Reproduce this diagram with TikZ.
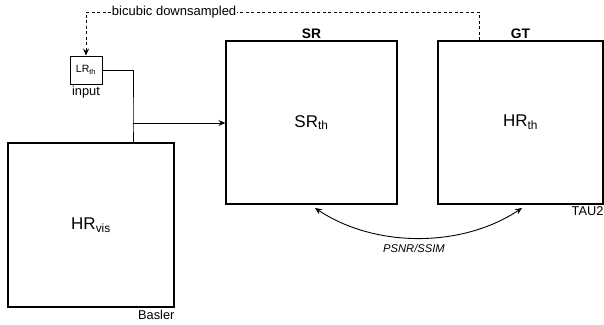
\documentclass[tikz,border=0pt]{standalone}
\usepackage{fontspec}
\setmainfont{Liberation Sans}
\usetikzlibrary{arrows.meta,calc}
\begin{document}
\begin{tikzpicture}[x=1pt,y=-1pt,
  imgbox/.style={draw, line width=1.3pt, inner sep=0pt, font=\fontsize{17}{20}\selectfont},
  smallbox/.style={draw, line width=0.9pt, inner sep=0pt, minimum width=32pt, minimum height=28pt, font=\fontsize{10.5}{12}\selectfont},
  caption/.style={inner sep=1pt, font=\fontsize{12.8}{15}\selectfont},
  title/.style={inner sep=2pt, font=\bfseries\fontsize{13.8}{16}\selectfont},
  metric/.style={inner sep=1pt, font=\itshape\fontsize{11.2}{13}\selectfont},
  wire/.style={line width=0.9pt},
  tip/.style={-{Stealth[length=7pt,width=6pt,inset=2.5pt]}},
  dtip/.style={{Stealth[length=7pt,width=6pt,inset=2.5pt]}-{Stealth[length=7pt,width=6pt,inset=2.5pt]}}
]
\useasboundingbox (0,0) rectangle (604,324);

% image boxes
\node[imgbox, minimum width=166pt, minimum height=164pt] (hrvis) at (91,225) {HR\textsubscript{vis}};
\node[imgbox, minimum width=171pt, minimum height=163pt] (sr) at (311.5,122.5) {SR\textsubscript{th}};
\node[imgbox, minimum width=165pt, minimum height=163pt] (gt) at (520.5,122.5) {HR\textsubscript{th}};
\node[smallbox] (lr) at (86,70) {LR\textsubscript{th}};

% captions
\node[caption, anchor=north] (inp) at ($(lr.south)+(0,1)$) {input};
\node[caption, anchor=north east] (basler) at ($(hrvis.south east)+(1,1)$) {Basler};
\node[caption, anchor=north east] (tau) at ($(gt.south east)+(1,1)$) {TAU2};
\node[title, anchor=south] (srt) at (sr.north) {SR};
\node[title, anchor=south] (gtt) at (gt.north) {GT};

% input wiring
\coordinate (j) at (133,123);
\draw[wire] (lr.east) -| (j) -- (j |- hrvis.north);
\draw[wire, tip] (j) -- (j -| sr.west);

% degradation path
\coordinate (g) at ($(gt.north west)+(42,0)$);
\draw[wire, dash pattern=on 3pt off 2.5pt, tip] (g) -- ++(0,-28) -| (lr.north)
  node[pos=0.388, fill=white, inner sep=1pt, font=\fontsize{13}{15}\selectfont] (bic) {bicubic downsampled};

% evaluation
\coordinate (ea) at (315,208);
\coordinate (eb) at (522,208);
\draw[wire, dtip] (ea) .. controls (375,248) and (462,248) .. (eb);
\node[metric] (m) at (414,248) {PSNR/SSIM};
\end{tikzpicture}
\end{document}
